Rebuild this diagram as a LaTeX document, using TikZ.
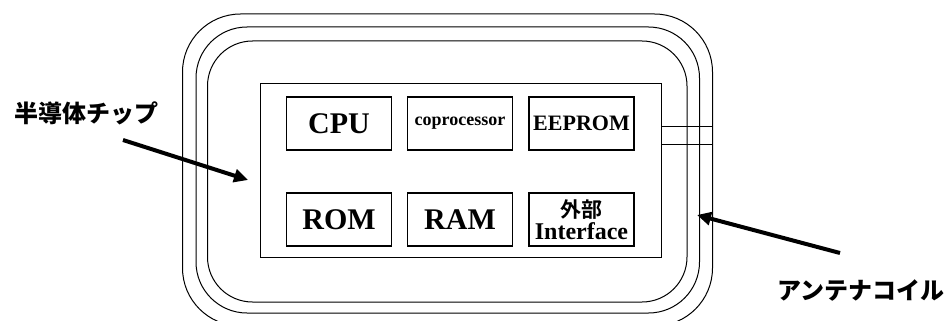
\documentclass[tikz,border=0pt]{standalone}
\usepackage{fontspec}
\setmainfont{Liberation Serif}
\newfontfamily\jp{Noto Sans CJK JP Black}
\usetikzlibrary{arrows.meta}
\tikzset{
  coil/.style={draw=black, line width=1pt},
  unit/.style={draw=black, line width=1.2pt, minimum width=105pt, minimum height=53pt, inner sep=0pt, font=\bfseries},
  callout/.style={line width=4pt, -{Triangle[length=14pt,width=13pt]}},
  jlabel/.style={font=\jp\fontsize{24}{26}\selectfont, inner sep=0pt}
}
\begin{document}
\begin{tikzpicture}[x=1pt,y=-1pt]
\useasboundingbox (0,0) rectangle (950,321);
\clip (0,0) rectangle (950,321);
% antenna coil
\draw[coil, rounded corners=45pt] (207.5,41) rectangle (687,302);
\draw[coil, rounded corners=51pt] (196,27) rectangle (699.5,313);
\draw[coil, rounded corners=58pt] (182.5,14) rectangle (712.5,326);
% chip
\node[draw=black, line width=1pt, minimum width=401pt, minimum height=174pt, inner sep=0pt] (chip) at (460.5,170) {};
% bus to coil
\coordinate (b1) at (712.5,126);
\coordinate (b2) at (712.5,144);
\draw[coil] (chip.east |- b1) -- (b1);
\draw[coil] (chip.east |- b2) -- (b2);
% units
\node[unit, font=\bfseries\fontsize{30}{32}\selectfont] (cpu) at (339,123.5) {CPU};
\node[unit, font=\bfseries\fontsize{18}{20}\selectfont] (cop) at (460,123.5) {coprocessor};
\node[unit, font=\bfseries\fontsize{22}{24}\selectfont] (eep) at (581.5,123.5) {EEPROM};
\node[unit, font=\bfseries\fontsize{30}{32}\selectfont] (rom) at (339,219.5) {ROM};
\node[unit, font=\bfseries\fontsize{30}{32}\selectfont] (ram) at (460,219.5) {RAM};
\node[unit, align=center, font=\bfseries\fontsize{24}{22}\selectfont] (ext) at (581.5,219.5) {{\jp\fontsize{21}{20}\selectfont 外部}\\Interface};
% labels
\node[jlabel] (lchip) at (86,113) {半導体チップ};
\node[jlabel] (lcoil) at (861,290) {アンテナコイル};
% arrows
\coordinate (t1) at (123,140);
\coordinate (h1) at (248,180);
\coordinate (t2) at (840,253);
\coordinate (h2) at (697,215);
\draw[callout] (t1) -- (h1);
\draw[callout] (t2) -- (h2);
\end{tikzpicture}
\end{document}
